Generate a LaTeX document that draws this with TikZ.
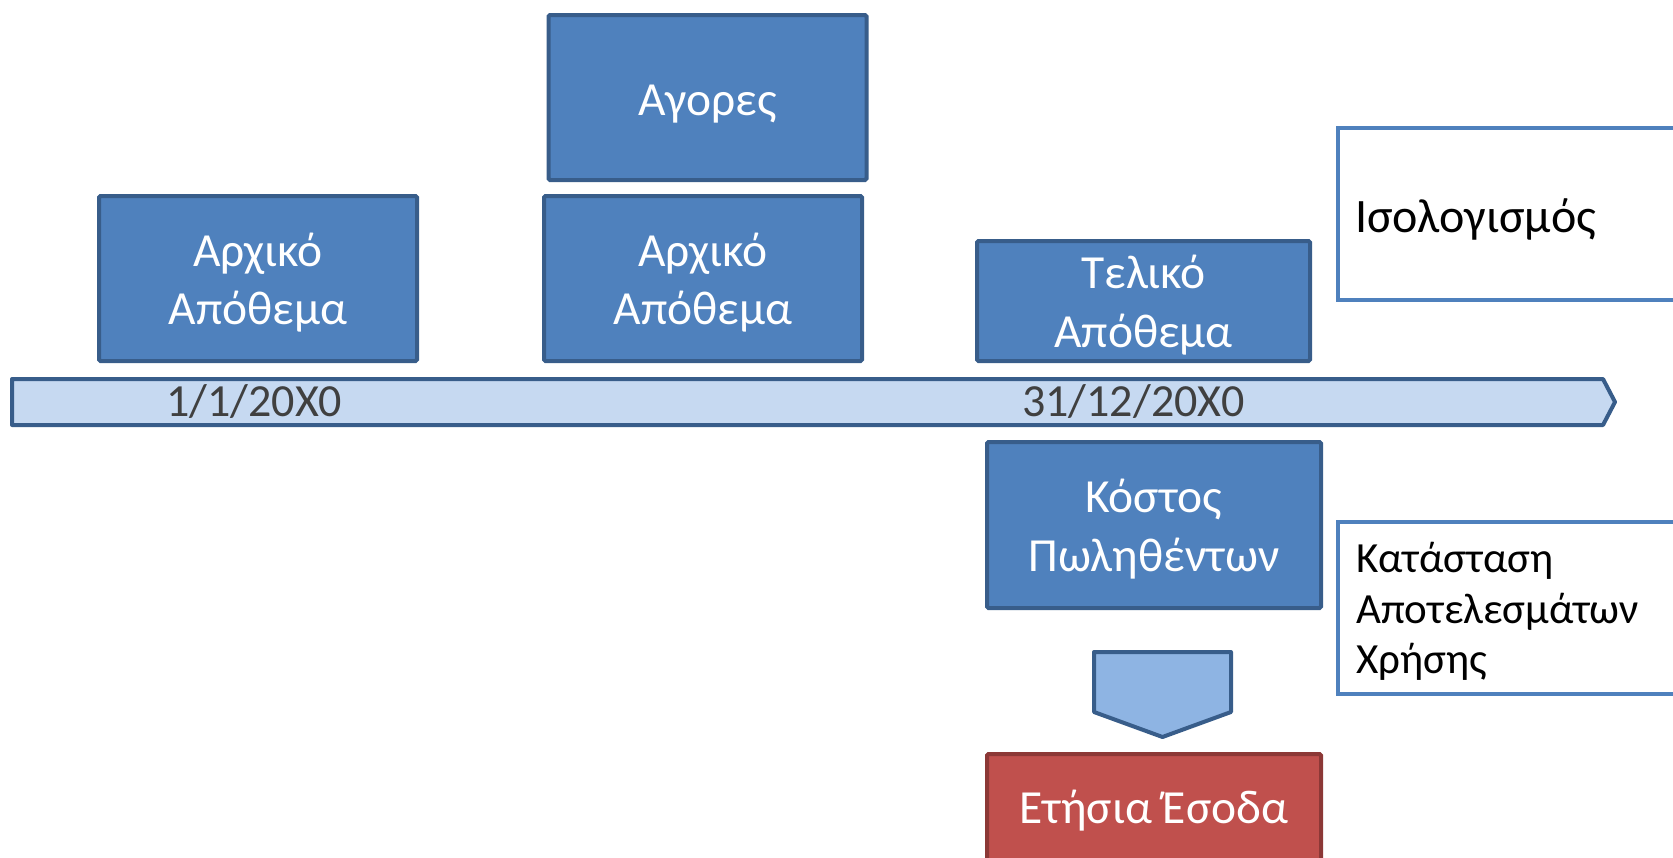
\documentclass[tikz,border=0pt]{standalone}
\usepackage{fontspec}
\setmainfont{Carlito}
\definecolor{boxfill}{HTML}{4F81BD}
\definecolor{boxline}{HTML}{385D8A}
\definecolor{barfill}{HTML}{C6D9F1}
\definecolor{pentfill}{HTML}{8EB4E3}
\definecolor{redfill}{HTML}{C0504D}
\definecolor{redline}{HTML}{8C3836}
\definecolor{datetext}{HTML}{404040}
\begin{document}
\begin{tikzpicture}[x=1pt,y=-1pt,
  bluebox/.style={draw=boxline, fill=boxfill, line width=4pt, rounded corners=1.5pt, inner sep=0pt},
  redbox/.style={bluebox, draw=redline, fill=redfill},
  boxtext/.style={text=white, align=center, inner sep=0pt, font=\fontsize{47.5}{58.5}\selectfont},
  wbox/.style={draw=boxfill, fill=white, line width=3.5pt, inner sep=0pt},
  datelabel/.style={text=datetext, inner sep=0pt, font=\fontsize{46}{56}\selectfont},
  sidelabel/.style={text=black, inner sep=0pt},
  bar/.style={draw=boxline, fill=barfill, line width=4pt, line join=round},
  pent/.style={draw=boxline, fill=pentfill, line width=4pt, line join=round}]
\useasboundingbox (0,0) rectangle (1673,857);
% timeline
\draw[bar] (12,379) -- (1603,379) -- (1615,402) -- (1603,425) -- (12,425) -- cycle;
\node[datelabel, anchor=base west] (d1) at (166,416) {1/1/20X0};
\node[datelabel, anchor=base west] (d2) at (1022,416) {31/12/20X0};
% blue boxes
\node[bluebox, minimum width=318pt, minimum height=165pt] (a1) at (258,278.5) {};
\node[boxtext] (a1t) at ([yshift=-4pt]a1.center) {Αρχικό\\Απόθεμα};
\node[bluebox, minimum width=318pt, minimum height=165pt] (ag) at (707.5,97.5) {};
\node[boxtext] (agt) at ([yshift=-7pt]ag.center) {Αγορες};
\node[bluebox, minimum width=318pt, minimum height=165pt] (a2) at (703,278.5) {};
\node[boxtext] (a2t) at ([yshift=-4pt]a2.center) {Αρχικό\\Απόθεμα};
\node[bluebox, minimum width=333pt, minimum height=120pt] (tl) at (1143.5,301) {};
\node[boxtext] (tlt) at ([yshift=-4pt]tl.center) {Τελικό\\Απόθεμα};
\node[bluebox, minimum width=334pt, minimum height=166pt] (ks) at (1154,525) {};
\node[boxtext] (kst) at ([yshift=-4pt]ks.center) {Κόστος\\Πωληθέντων};
% white boxes
\node[wbox, anchor=north west, minimum width=360pt, minimum height=172pt] (bs) at (1336,126) {};
\node[sidelabel, anchor=base west, font=\fontsize{48}{58}\selectfont] (bst) at (1355,232) {Ισολογισμός};
\node[wbox, anchor=north west, minimum width=360pt, minimum height=172pt] (pl) at (1336,520) {};
\node[sidelabel, anchor=base west, font=\fontsize{43}{51}\selectfont] (pl1) at (1356,572) {Κατάσταση};
\node[sidelabel, anchor=base west, font=\fontsize{43}{51}\selectfont] (pl2) at (1356,623) {Αποτελεσμάτων};
\node[sidelabel, anchor=base west, font=\fontsize{43}{51}\selectfont] (pl3) at (1356,673) {Χρήσης};
% down arrow
\draw[pent] (1094,652) -- (1231,652) -- (1231,712) -- (1162.5,737) -- (1094,712) -- cycle;
% red box
\node[redbox, anchor=north, minimum width=334pt, minimum height=150pt] (es) at (1154,752) {};
\node[boxtext, anchor=base] (est) at (1154,823) {Ετήσια Έσοδα};
\end{tikzpicture}
\end{document}
